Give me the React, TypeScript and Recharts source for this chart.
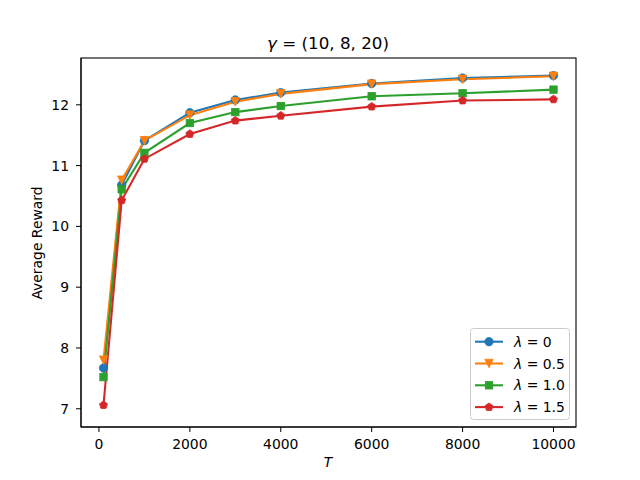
import React from "react";
import { LineChart, Line, XAxis, YAxis } from "recharts";

// values
const tValues = [100, 500, 1000, 2000, 3000, 4000, 6000, 8000, 10000];
const lambda0 = [7.67, 10.68, 11.41, 11.87, 12.08, 12.2, 12.35, 12.44, 12.48];
const lambda05 = [7.8, 10.76, 11.41, 11.83, 12.05, 12.18, 12.34, 12.42, 12.47];
const lambda10 = [7.52, 10.61, 11.21, 11.7, 11.88, 11.98, 12.14, 12.19, 12.25];
const lambda15 = [7.06, 10.43, 11.11, 11.52, 11.74, 11.82, 11.97, 12.07, 12.09];
const lambdaLabels = ["0", "0.5", "1.0", "1.5"];
const xTicks = [0, 2000, 4000, 6000, 8000, 10000];
const yTicks = [7, 8, 9, 10, 11, 12];

const FONT = "DejaVu Sans, sans-serif";

const series = [
  { key: "l0", values: lambda0, label: lambdaLabels[0], color: "#1f77b4", marker: "circle" },
  { key: "l05", values: lambda05, label: lambdaLabels[1], color: "#ff7f0e", marker: "tri" },
  { key: "l10", values: lambda10, label: lambdaLabels[2], color: "#2ca02c", marker: "square" },
  { key: "l15", values: lambda15, label: lambdaLabels[3], color: "#d62728", marker: "pent" },
];

const data = tValues.map((t, i) => {
  const row: Record<string, number> = { t };
  series.forEach((s) => (row[s.key] = s.values[i]));
  return row;
});

function Marker({ kind, cx, cy, color }: { kind: string; cx: number; cy: number; color: string }) {
  const r = 4.2;
  if (kind === "circle") return <circle cx={cx} cy={cy} r={r} fill={color} stroke={color} strokeWidth={0.8} />;
  if (kind === "tri") {
    const pts = `${cx},${cy + r} ${cx - r},${cy - r} ${cx + r},${cy - r}`;
    return <polygon points={pts} fill={color} stroke={color} strokeWidth={0.8} strokeLinejoin="miter" />;
  }
  if (kind === "square") {
    const h = 3.7;
    return <rect x={cx - h} y={cy - h} width={h * 2} height={h * 2} fill={color} stroke={color} strokeWidth={0.8} />;
  }
  const pts = [0, 1, 2, 3, 4]
    .map((k) => {
      const a = -Math.PI / 2 + (k * 2 * Math.PI) / 5;
      return `${cx + r * Math.cos(a)},${cy + r * Math.sin(a)}`;
    })
    .join(" ");
  return <polygon points={pts} fill={color} stroke={color} strokeWidth={0.8} />;
}

export default function App() {
  const tick = { fontSize: 13.9, fill: "#000", fontFamily: FONT };
  return (
    <div style={{ position: "relative", width: 640, height: 480, background: "#fff" }}>
      <style>{`body{margin:0}`}</style>
      <LineChart width={640} height={480} data={data} margin={{ top: 58, right: 64, bottom: 0, left: 0 }}>
        <XAxis
          dataKey="t"
          type="number"
          domain={[-395, 10495]}
          ticks={xTicks}
          allowDataOverflow
          height={53}
          tick={tick}
          tickSize={5}
          tickMargin={7}
          stroke="#000"
          tickLine={{ stroke: "#000" }}
        />
        <YAxis
          type="number"
          domain={[6.7, 12.77]}
          ticks={yTicks}
          allowDataOverflow
          width={81}
          tick={tick}
          tickSize={5}
          tickMargin={7}
          stroke="#000"
          tickLine={{ stroke: "#000" }}
        />
        {series.map((s) => (
          <Line
            key={s.key}
            dataKey={s.key}
            stroke={s.color}
            strokeWidth={2.08}
            isAnimationActive={false}
            activeDot={false}
            dot={(p: any) => <Marker key={`${s.key}-${p.index}`} kind={s.marker} cx={p.cx} cy={p.cy} color={s.color} />}
          />
        ))}
      </LineChart>
      <svg width={640} height={480} style={{ position: "absolute", left: 0, top: 0, pointerEvents: "none" }} fontFamily={FONT}>
        <rect x={81} y={58} width={495} height={369} fill="none" stroke="#000" strokeWidth={1.1} />
        <text x={328} y={49} textAnchor="middle" fontSize={16.7}>
          <tspan fontStyle="italic">γ</tspan> = (10, 8, 20)
        </text>
        <text x={328} y={467} textAnchor="middle" fontSize={13.9} fontStyle="italic">
          T
        </text>
        <text transform="translate(42,243) rotate(-90)" textAnchor="middle" fontSize={13.9}>
          Average Reward
        </text>
        <rect x={470.5} y={328.5} width={99} height={91} rx={3} fill="#fff" fillOpacity={0.8} stroke="#cccccc" />
        {series.map((s, i) => {
          const y = 341.7 + i * 21.8;
          return (
            <g key={s.key}>
              <line x1={475} x2={503} y1={y} y2={y} stroke={s.color} strokeWidth={2.08} />
              <Marker kind={s.marker} cx={489} cy={y} color={s.color} />
              <text x={514} y={y + 5} fontSize={13.9}>
                <tspan fontStyle="italic">λ</tspan> = {s.label}
              </text>
            </g>
          );
        })}
      </svg>
    </div>
  );
}
